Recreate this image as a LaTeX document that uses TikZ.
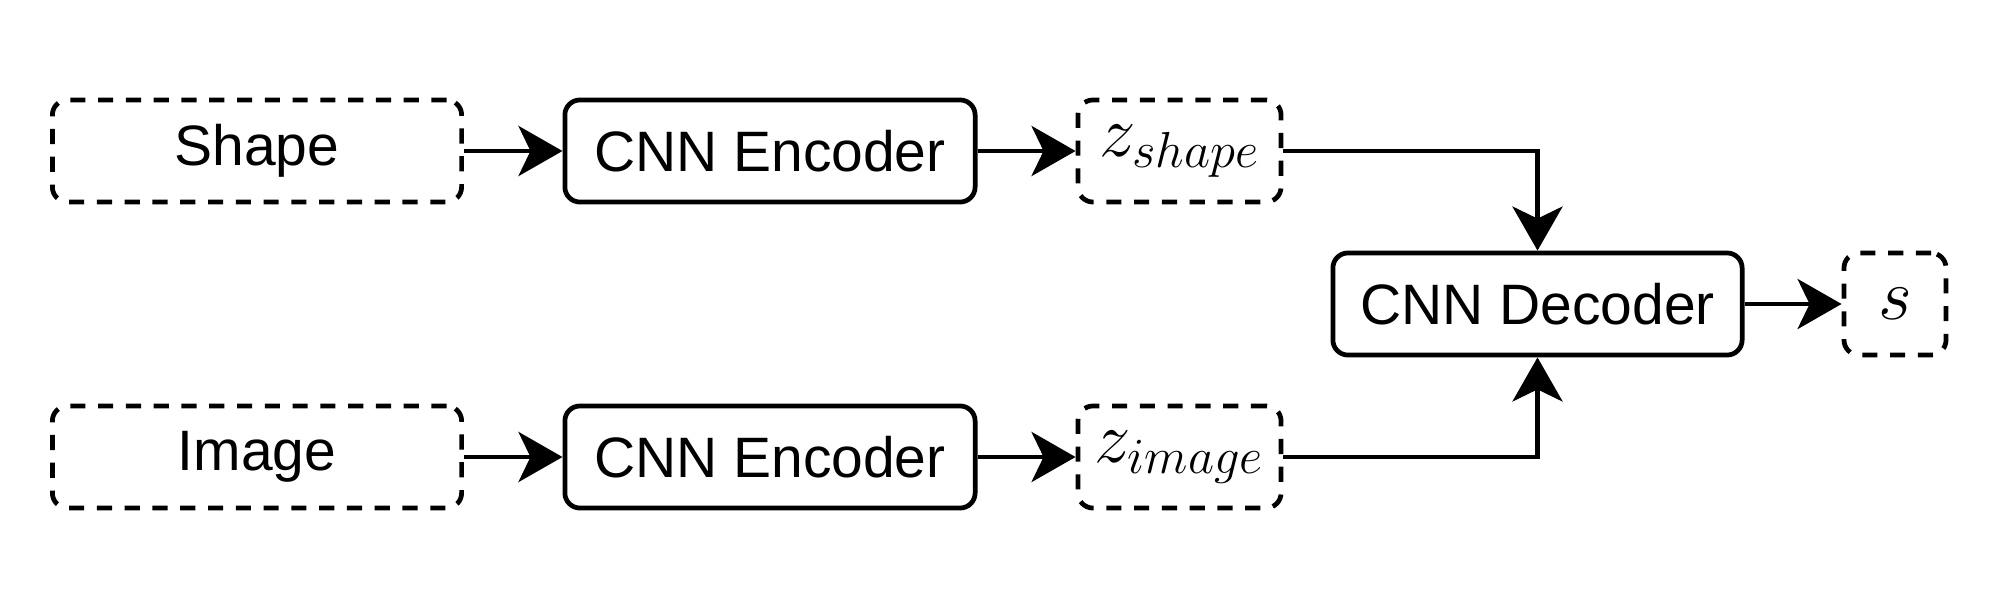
\documentclass[tikz,border=0pt]{standalone}
\usepackage{fontspec}
\setmainfont{Liberation Sans}
\usetikzlibrary{arrows.meta}
\begin{document}
\begin{tikzpicture}[x=0.01cm,y=-0.01cm,
  box/.style={draw,line width=1.35pt,rounded corners=0.15cm,minimum height=1.02cm,inner sep=0pt,font=\fontsize{16.2}{19}\selectfont},
  dbox/.style={box,dash pattern=on 4.3pt off 3.6pt},
  mathtxt/.style={font=\fontsize{20}{24}\selectfont},
  conn/.style={line width=1.35pt,-{Stealth[length=0.44cm,width=0.5cm,inset=0.12cm]}}]
\useasboundingbox (0,0) rectangle (2000,603);
\node[dbox,minimum width=4.09cm] (shape) at (257,151) {Shape};
\node[box,minimum width=4.10cm] (enc1) at (770,151) {CNN Encoder};
\node[dbox,mathtxt,minimum width=2.03cm] (zs) at (1179.5,151) {$z_{shape}$};
\node[dbox,minimum width=4.09cm] (image) at (257,457) {Image};
\node[box,minimum width=4.10cm] (enc2) at (770,457) {CNN Encoder};
\node[dbox,mathtxt,minimum width=2.03cm] (zi) at (1179.5,457) {$z_{image}$};
\node[box,minimum width=4.09cm] (dec) at (1537.5,304) {CNN Decoder};
\node[dbox,mathtxt,minimum width=1.02cm] (s) at (1895,304) {$s$};
\draw[conn] (shape) -- (enc1);
\draw[conn] (enc1) -- (zs);
\draw[conn] (image) -- (enc2);
\draw[conn] (enc2) -- (zi);
\draw[conn] (zs.east) -| (dec.north);
\draw[conn] (zi.east) -| (dec.south);
\draw[conn] (dec) -- (s);
\end{tikzpicture}
\end{document}
